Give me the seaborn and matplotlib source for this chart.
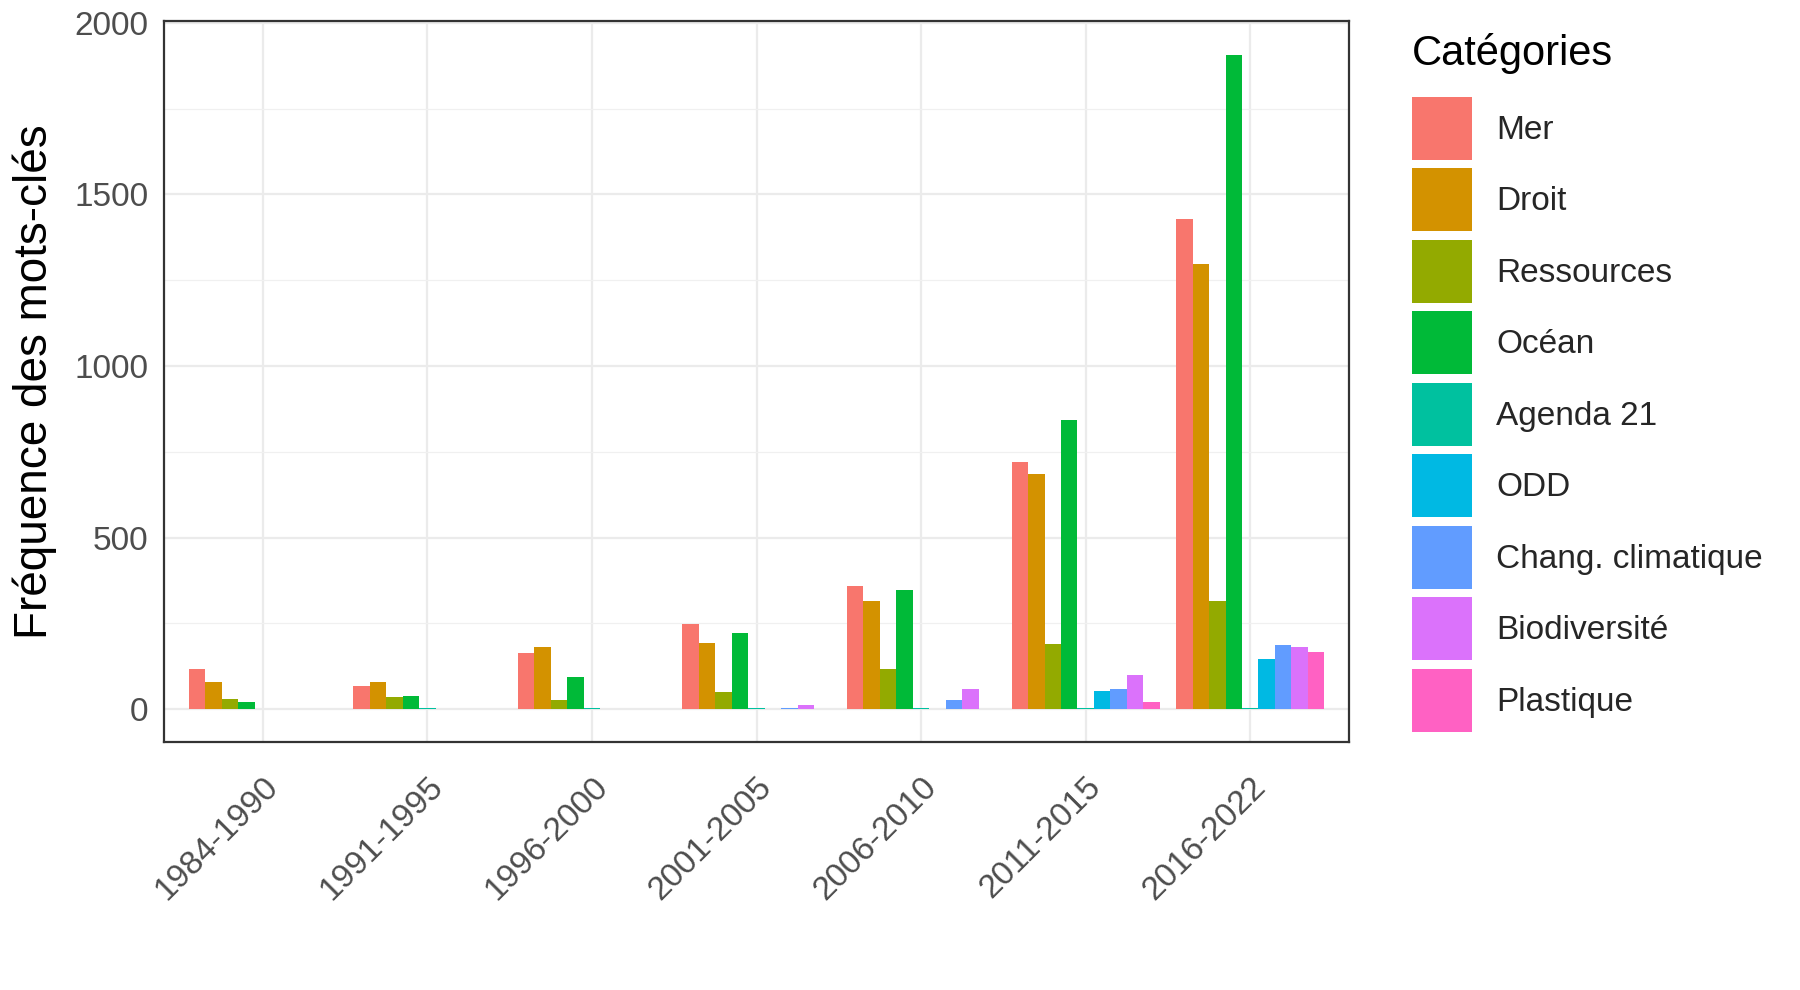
import pandas as pd
import matplotlib
matplotlib.use('Agg')
import matplotlib.pyplot as plt
import seaborn as sns
from matplotlib.ticker import MultipleLocator

# Données
periodes = ['1984-1990', '1991-1995', '1996-2000', '2001-2005',
            '2006-2010', '2011-2015', '2016-2022']
categories = ['Mer', 'Droit', 'Ressources', 'Océan', 'Agenda 21', 'ODD',
              'Chang. climatique', 'Biodiversité', 'Plastique']

mer = [118, 68, 163, 249, 359, 720, 1428]
droit = [79, 79, 182, 192, 314, 684, 1297]
ressources = [31, 36, 28, 50, 118, 191, 316]
ocean = [20, 39, 95, 221, 347, 842, 1906]
agenda21 = [0, 3, 4, 4, 4, 4, 5]
odd = [0, 0, 0, 0, 0, 53, 146]
chang_climatique = [0, 0, 0, 3, 28, 59, 188]
biodiversite = [0, 0, 0, 13, 60, 100, 181]
plastique = [0, 0, 0, 0, 0, 20, 166]

palette = ['#F8766D', '#D39200', '#93AA00', '#00BA38', '#00C19F',
           '#00B9E3', '#619CFF', '#DB72FB', '#FF61C3']

series = [mer, droit, ressources, ocean, agenda21, odd,
          chang_climatique, biodiversite, plastique]
rows = []
for cat, vals in zip(categories, series):
    for per, v in zip(periodes, vals):
        rows.append({'periode': per, 'categorie': cat, 'freq': v})
df = pd.DataFrame(rows)

sns.set_style('white')
plt.rcParams['font.family'] = ['Liberation Sans', 'DejaVu Sans']

fig = plt.figure(figsize=(18, 9.9), dpi=100)
ax = fig.add_axes([164 / 1800, 1 - 742 / 990, 1185 / 1800, 721 / 990])

sns.barplot(data=df, x='periode', y='freq', hue='categorie',
            order=periodes, hue_order=categories, palette=palette,
            width=0.9, linewidth=0, saturation=1, errorbar=None, ax=ax)

ax.set_xlim(-0.6, 6.6)
ax.set_ylim(-95.5, 2005.5)
ax.set_yticks([0, 500, 1000, 1500, 2000])
ax.yaxis.set_minor_locator(MultipleLocator(250))

ax.set_axisbelow(True)
ax.grid(which='major', color='#EBEBEB', linewidth=1.6)
ax.grid(which='minor', axis='y', color='#F0F0F0', linewidth=0.9)

for s in ax.spines.values():
    s.set_visible(True)
    s.set_color('#333333')
    s.set_linewidth(1.6)

ax.tick_params(axis='both', which='major', labelsize=24, labelcolor='#4D4D4D',
               color='#333333', length=7, width=1.5, pad=4)
ax.tick_params(axis='y', which='minor', length=0)
ax.tick_params(axis='x', pad=14)
for lab in ax.get_xticklabels():
    lab.set_rotation(45)
    lab.set_ha('right')
    lab.set_va('top')
    lab.set_rotation_mode('anchor')

ax.set_xlabel('')
ax.set_ylabel('Fréquence des mots-clés', fontsize=33, color='black')
ax.yaxis.set_label_coords(-0.09, 0.5)

# légende : titre placé à part, clés hautes comme dans ggplot
sns.move_legend(ax, 'upper left', bbox_to_anchor=(1412 / 1800, 1 - 97 / 990),
                bbox_transform=fig.transFigure, frameon=False, title=None,
                fontsize=24, handlelength=1.8, handleheight=2.53,
                labelspacing=0.255, handletextpad=0.72, borderpad=0,
                borderaxespad=0)
fig.text(1412 / 1800, 1 - 53 / 990, 'Catégories', fontsize=30,
         color='black', ha='left', va='center')

fig.savefig('out.png', dpi=100)
plt.close()
